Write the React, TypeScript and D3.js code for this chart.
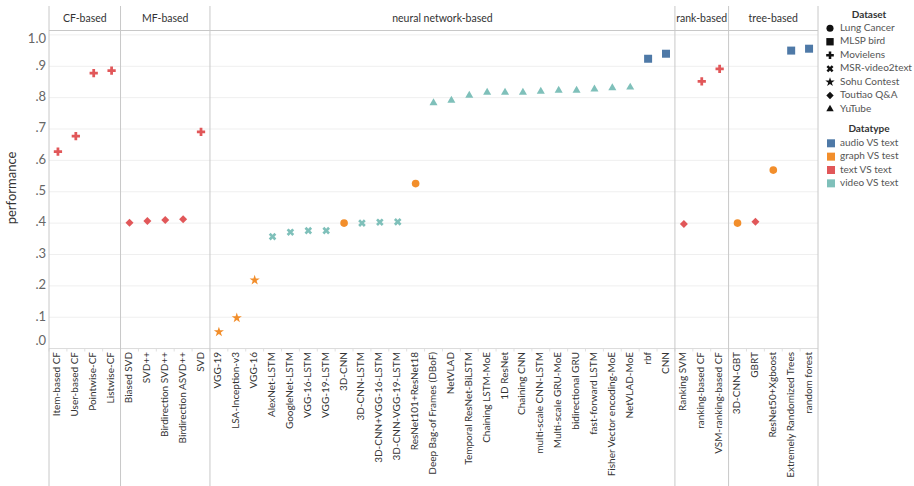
import React from "react";
import * as d3 from "d3";

const groups = ["CF-based", "MF-based", "neural network-based", "rank-based", "tree-based"];

const methods = [
  "Item-based CF", "User-based CF", "Pointwise-CF", "Listwise-CF",
  "Biased SVD", "SVD++", "Birdirection SVD++", "Birdirection ASVD++", "SVD",
  "VGG-19", "LSA-Inception-v3", "VGG-16", "AlexNet-LSTM", "GoogleNet-LSTM", "VGG-16-LSTM", "VGG-19-LSTM",
  "3D-CNN", "3D-CNN-LSTM", "3D-CNN+VGG-16-LSTM", "3D-CNN-VGG-19-LSTM", "ResNet101+ResNet18",
  "Deep Bag-of Frames (DBoF)", "NetVLAD", "Temporal ResNet-BiLSTM", "Chaining LSTM-MoE", "1D ResNet",
  "Chaining CNN", "multi-scale CNN-LSTM", "Multi-scale GRU-MoE", "bidirectional GRU", "fast-forward LSTM",
  "Fisher Vector encoding-MoE", "NetVLAD-MoE", "rbf", "CNN",
  "Ranking SVM", "ranking-based CF", "VSM-ranking-based CF",
  "3D-CNN-GBT", "GBRT", "ResNet50+Xgboost", "Extremely Randomized Trees", "random forest",
];

const methodGroup = [
  0, 0, 0, 0,
  1, 1, 1, 1, 1,
  2, 2, 2, 2, 2, 2, 2, 2, 2, 2, 2, 2, 2, 2, 2, 2, 2, 2, 2, 2, 2, 2, 2, 2, 2, 2,
  3, 3, 3,
  4, 4, 4, 4, 4,
];

const methodDataset = [
  "Movielens", "Movielens", "Movielens", "Movielens",
  "Toutiao Q&A", "Toutiao Q&A", "Toutiao Q&A", "Toutiao Q&A", "Movielens",
  "Sohu Contest", "Sohu Contest", "Sohu Contest", "MSR-video2text", "MSR-video2text", "MSR-video2text", "MSR-video2text",
  "Lung Cancer", "MSR-video2text", "MSR-video2text", "MSR-video2text", "Lung Cancer",
  "YuTube", "YuTube", "YuTube", "YuTube", "YuTube",
  "YuTube", "YuTube", "YuTube", "YuTube", "YuTube",
  "YuTube", "YuTube", "MLSP bird", "MLSP bird",
  "Toutiao Q&A", "Movielens", "Movielens",
  "Lung Cancer", "Toutiao Q&A", "Lung Cancer", "MLSP bird", "MLSP bird",
];

const performance = [
  0.628, 0.677, 0.878, 0.886,
  0.401, 0.407, 0.410, 0.412, 0.691,
  0.053, 0.098, 0.218, 0.357, 0.371, 0.376, 0.376,
  0.400, 0.400, 0.403, 0.404, 0.526,
  0.783, 0.791, 0.807, 0.817, 0.817,
  0.817, 0.820, 0.823, 0.823, 0.827,
  0.831, 0.833, 0.924, 0.940,
  0.397, 0.852, 0.892,
  0.400, 0.404, 0.569, 0.950, 0.956,
];

const datasets = ["Lung Cancer", "MLSP bird", "Movielens", "MSR-video2text", "Sohu Contest", "Toutiao Q&A", "YuTube"];
const datasetType = ["graph VS test", "audio VS text", "text VS text", "video VS text", "graph VS test", "text VS text", "video VS text"];
const datatypes = ["audio VS text", "graph VS test", "text VS text", "video VS text"];
const datatypeColors = ["#4e79a7", "#f28e2b", "#e15759", "#7fc0ba"];

const yTicks = [0, 0.1, 0.2, 0.3, 0.4, 0.5, 0.6, 0.7, 0.8, 0.9, 1.0];

const FONT = "Lato, 'Open Sans', sans-serif";

function symbolPath(ds: string, scale = 1): { d: string; rot: number } {
  const sym = d3.symbol();
  switch (ds) {
    case "Lung Cancer":
      return { d: sym.type(d3.symbolCircle).size(46 * scale)()!, rot: 0 };
    case "MLSP bird":
      return { d: sym.type(d3.symbolSquare).size(64 * scale)()!, rot: 0 };
    case "Movielens":
      return { d: sym.type(d3.symbolCross).size(38 * scale)()!, rot: 0 };
    case "MSR-video2text":
      return { d: sym.type(d3.symbolCross).size(36 * scale)()!, rot: 45 };
    case "Sohu Contest":
      return { d: sym.type(d3.symbolStar).size(32 * scale)()!, rot: 0 };
    case "Toutiao Q&A":
      return { d: sym.type(d3.symbolSquare).size(32 * scale)()!, rot: 45 };
    default:
      return { d: sym.type(d3.symbolTriangle).size(28 * scale)()!, rot: 0 };
  }
}

export default function App() {
  const W = 914;
  const H = 486;
  const left = 49;
  const right = 818;
  const top = 6;
  const headerBottom = 30.5;
  const axisY = 348.5;
  const bottom = 486;

  const x = d3.scaleBand<string>().domain(methods).range([left, right]).paddingInner(0).paddingOuter(0);
  const y = d3.scaleLinear().domain([0, 1]).range([348.6, 34.9]);
  const color = d3.scaleOrdinal<string, string>().domain(datatypes).range(datatypeColors);

  const groupRanges = groups.map((g, gi) => {
    const idx = methods.filter((_, i) => methodGroup[i] === gi);
    const x0 = x(idx[0])!;
    const x1 = x(idx[idx.length - 1])! + x.bandwidth();
    return { g, x0, x1 };
  });

  const lineColor = "#c8c8c8";

  return (
    <svg width={W} height={H} style={{ display: "block", position: "absolute", left: 0, top: 0, background: "#fff" }} fontFamily={FONT}>
      {yTicks.map((t) => (
        <line key={"g" + t} x1={left} x2={right} y1={y(t)} y2={y(t)} stroke="#efefef" strokeWidth={1} />
      ))}
      {methods.map((m, i) => (
        <line key={"ct" + i} x1={x(m)!} x2={x(m)!} y1={axisY} y2={axisY + 3} stroke="#e0e0e0" />
      ))}
      <line x1={left} x2={right} y1={headerBottom} y2={headerBottom} stroke={lineColor} />
      <line x1={left} x2={right} y1={axisY} y2={axisY} stroke="#dcdcdc" />
      {[left, ...groupRanges.map((r) => r.x1)].map((xx, i) => (
        <line key={"v" + i} x1={xx} x2={xx} y1={top} y2={bottom} stroke={lineColor} />
      ))}
      {groupRanges.map((r) => (
        <text key={r.g} x={(r.x0 + r.x1) / 2} y={19} textAnchor="middle" dominantBaseline="middle" fontSize={10.5} fill="#333">
          {r.g}
        </text>
      ))}
      {yTicks.map((t, i) => {
        let yy = y(t);
        if (i === yTicks.length - 1) yy += 5;
        if (i === 0) yy -= 7;
        const lbl = t === 1 ? "1.0" : d3.format(".1f")(t).replace(/^0/, "");
        return (
          <text key={"yl" + t} x={46} y={yy} textAnchor="end" dominantBaseline="middle" fontSize={13} fill="#666">
            {lbl}
          </text>
        );
      })}
      <text transform={`translate(13,188) rotate(-90)`} textAnchor="middle" dominantBaseline="middle" fontSize={13} fill="#333">
        performance
      </text>
      {methods.map((m) => (
        <text
          key={"xl" + m}
          transform={`translate(${x(m)! + x.bandwidth() / 2},352) rotate(-90)`}
          textAnchor="end"
          dominantBaseline="middle"
          fontSize={10}
          fill="#333"
        >
          {m}
        </text>
      ))}
      {methods.map((m, i) => {
        const ds = methodDataset[i];
        const dt = datasetType[datasets.indexOf(ds)];
        const s = symbolPath(ds);
        return (
          <path
            key={"mk" + m}
            d={s.d}
            transform={`translate(${x(m)! + x.bandwidth() / 2},${y(performance[i])}) rotate(${s.rot})`}
            fill={color(dt)}
          />
        );
      })}
      <text x={869} y={15} textAnchor="middle" dominantBaseline="middle" fontSize={10} fontWeight="bold" fill="#333">
        Dataset
      </text>
      {datasets.map((ds, i) => {
        const s = symbolPath(ds, 0.85);
        const yy = 28.3 + i * 13.45;
        return (
          <g key={"ld" + ds}>
            <path d={s.d} transform={`translate(830,${yy}) rotate(${s.rot})`} fill="#111" />
            <text x={840} y={yy} dominantBaseline="middle" fontSize={10} fill="#555">
              {ds}
            </text>
          </g>
        );
      })}
      <text x={869} y={129.3} textAnchor="middle" dominantBaseline="middle" fontSize={10} fontWeight="bold" fill="#333">
        Datatype
      </text>
      {datatypes.map((dt, i) => {
        const yy = 143.3 + i * 13.35;
        return (
          <g key={"lt" + dt}>
            <rect x={827} y={yy - 4} width={8} height={8} fill={color(dt)} />
            <text x={840} y={yy} dominantBaseline="middle" fontSize={10} fill="#555">
              {dt}
            </text>
          </g>
        );
      })}
    </svg>
  );
}
